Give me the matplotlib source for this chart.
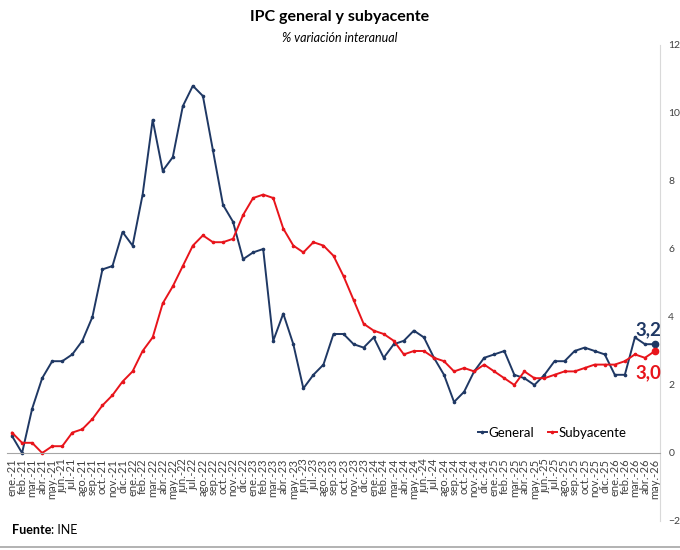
import matplotlib
matplotlib.use("Agg")
import matplotlib.pyplot as plt
from matplotlib.lines import Line2D

plt.rcParams["font.family"] = ["Lato", "DejaVu Sans"]

months = ["ene.", "feb.", "mar.", "abr.", "may.", "jun.",
          "jul.", "ago.", "sep.", "oct.", "nov.", "dic."]
labels = [f"{m}-{y}" for y in range(21, 27) for m in months][:65]

general = [0.5, 0.0, 1.3, 2.2, 2.7, 2.7, 2.9, 3.3, 4.0, 5.4, 5.5, 6.5,
           6.1, 7.6, 9.8, 8.3, 8.7, 10.2, 10.8, 10.5, 8.9, 7.3, 6.8, 5.7,
           5.9, 6.0, 3.3, 4.1, 3.2, 1.9, 2.3, 2.6, 3.5, 3.5, 3.2, 3.1,
           3.4, 2.8, 3.2, 3.3, 3.6, 3.4, 2.8, 2.3, 1.5, 1.8, 2.4, 2.8,
           2.9, 3.0, 2.3, 2.2, 2.0, 2.3, 2.7, 2.7, 3.0, 3.1, 3.0, 2.9,
           2.3, 2.3, 3.4, 3.2, 3.2]
subyacente = [0.6, 0.3, 0.3, 0.0, 0.2, 0.2, 0.6, 0.7, 1.0, 1.4, 1.7, 2.1,
              2.4, 3.0, 3.4, 4.4, 4.9, 5.5, 6.1, 6.4, 6.2, 6.2, 6.3, 7.0,
              7.5, 7.6, 7.5, 6.6, 6.1, 5.9, 6.2, 6.1, 5.8, 5.2, 4.5, 3.8,
              3.6, 3.5, 3.3, 2.9, 3.0, 3.0, 2.8, 2.7, 2.4, 2.5, 2.4, 2.6,
              2.4, 2.2, 2.0, 2.4, 2.2, 2.2, 2.3, 2.4, 2.4, 2.5, 2.6, 2.6,
              2.6, 2.7, 2.9, 2.8, 3.0]

navy = "#1f3864"
red = "#e8141b"

fig = plt.figure(figsize=(6.8, 5.5), dpi=100)
ax = fig.add_axes([7 / 680, 29 / 550, 653 / 680, 476 / 550])

# axis styling first: moving the spine resets the tick labels
for side in ["top", "left"]:
    ax.spines[side].set_visible(False)
ax.spines["bottom"].set_position(("data", 0))
ax.spines["bottom"].set_color("#a6a6a6")
ax.spines["right"].set_color("#d9d9d9")

x = list(range(len(labels)))
ax.plot(x, general, color=navy, lw=1.4, marker="o", ms=1.6)
ax.plot(x, subyacente, color=red, lw=1.4, marker="o", ms=1.6)
ax.plot(x[-1], general[-1], "o", color=navy, ms=4.5)
ax.plot(x[-1], subyacente[-1], "o", color=red, ms=4.5)

ax.annotate(f"{general[-1]:.1f}".replace(".", ","), xy=(x[-1], general[-1]),
            xytext=(-7, 14), textcoords="offset pixels", ha="center", va="center",
            color=navy, fontsize=13.5, fontweight="bold")
ax.annotate(f"{subyacente[-1]:.1f}".replace(".", ","), xy=(x[-1], subyacente[-1]),
            xytext=(-7, -22), textcoords="offset pixels", ha="center", va="center",
            color=red, fontsize=13.5, fontweight="bold")

ax.set_xlim(-0.5, len(labels) - 0.5)
ax.set_ylim(-2, 12)
ax.set_yticks(range(-2, 13, 2))
ax.yaxis.tick_right()
ax.tick_params(axis="y", length=0, labelsize=7.5, labelcolor="#404040", pad=6)
ax.set_xticks(x)
ax.set_xticklabels(labels, rotation=90, fontsize=8, color="#404040")
ax.tick_params(axis="x", length=0, pad=4)

handles = [Line2D([], [], color=navy, lw=1.4, marker="o", ms=1.6),
           Line2D([], [], color=red, lw=1.4, marker="o", ms=1.6)]
ax.legend(handles, ["General", "Subyacente"], loc="center", bbox_to_anchor=(0.835, 0.185),
          ncol=2, frameon=False, fontsize=9.5, handlelength=0.7, handletextpad=0.15,
          columnspacing=1.0)

fig.text(0.5, 1 - 17 / 550, "IPC general y subyacente", ha="center", va="center",
         fontsize=11.5, fontweight="bold")
fig.text(0.5, 1 - 38 / 550, "% variación interanual", ha="center", va="center",
         fontsize=9, style="italic")
src = fig.text(12 / 680, 1 - 530 / 550, "Fuente", ha="left", va="center", fontsize=9,
               fontweight="bold")
bb = src.get_window_extent(renderer=fig.canvas.get_renderer())
fig.text(bb.x1 / 680, 1 - 530 / 550, ": INE", ha="left", va="center", fontsize=9)
fig.add_artist(Line2D([0, 1], [1 - 547 / 550] * 2, color="#a6a6a6", lw=1.2))

fig.savefig("out.png", dpi=100)
